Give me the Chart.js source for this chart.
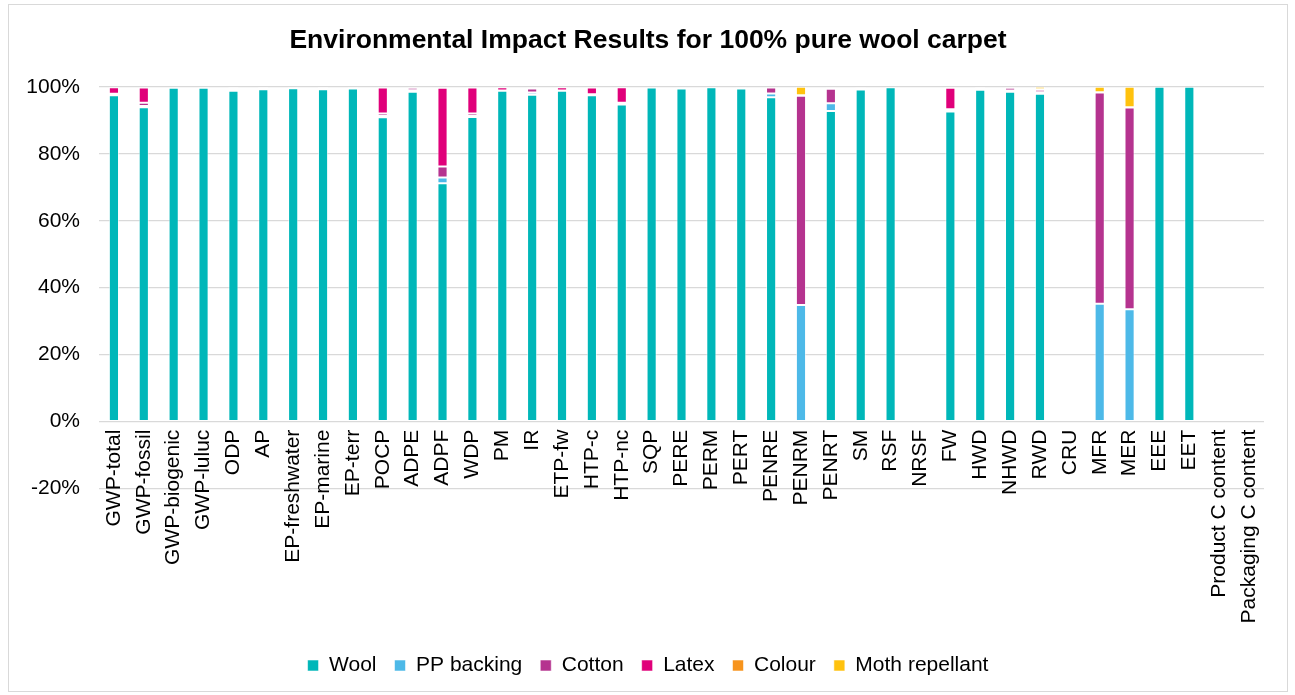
<!DOCTYPE html>
<html>
<head>
<meta charset="utf-8">
<script src="https://cdn.jsdelivr.net/npm/chart.js@4/dist/chart.umd.min.js"></script>
<style>
    body { margin: 0; background: #fff; }
    .frame {
        position: absolute; left: 8px; top: 4px;
        width: 1280px; height: 688px;
        border: 1px solid #d9d9d9; box-sizing: border-box;
    }
    .chart-box { position: absolute; left: 0; top: 0; width: 1278px; height: 686px; }
</style>
</head>
<body>
<div class="frame">
    <div class="chart-box"><canvas id="impactChart"></canvas></div>
</div>
<script>
// categories (impact indicators)
const categories = [
    "GWP-total", "GWP-fossil", "GWP-biogenic", "GWP-luluc", "ODP", "AP", "EP-freshwater",
    "EP-marine", "EP-terr", "POCP", "ADPE", "ADPF", "WDP", "PM", "IR", "ETP-fw", "HTP-c",
    "HTP-nc", "SQP", "PERE", "PERM", "PERT", "PENRE", "PENRM", "PENRT", "SM", "RSF", "NRSF",
    "FW", "HWD", "NHWD", "RWD", "CRU", "MFR", "MER", "EEE", "EET",
    "Product C content", "Packaging C content"
];

// share of each component, in %
const wool = [
    97.5, 93.9, 99.7, 99.7, 98.8, 99.3, 99.6, 99.3, 99.5, 90.9, 98.5, 71.2, 91.0, 98.8, 97.6, 98.8, 97.5,
    94.7, 99.8, 99.5, 99.9, 99.5, 96.9, 0, 92.8, 99.2, 99.9, null,
    92.6, 99.1, 98.5, 97.9, null, 0, 0, 100, 100, null, null
];
const ppBacking = [
    0.3, 0.4, 0, 0, 0.2, 0.1, 0, 0.1, 0, 0.4, 0.5, 1.7, 0.3, 0, 0.7, 0, 0.3,
    0.2, 0, 0, 0, 0, 1.1, 34.8, 2.3, 0.2, 0, null,
    0.2, 0.1, 0.4, 0.5, null, 35.2, 33.6, 0, 0, null, null
];
const cotton = [
    0.1, 0.9, 0, 0.3, 0.4, 0, 0, 0, 0, 0.7, 0.7, 3.3, 0.7, 0.1, 1.2, 0.1, 0,
    0.3, 0, 0, 0, 0, 1.8, 62.5, 4.3, 0.4, 0, null,
    0.5, 0.3, 0.8, 0.7, null, 63.1, 60.2, 0, 0, null, null
];
const latex = [
    2.0, 4.6, 0.1, 0, 0, 0.6, 0.1, 0.6, 0.2, 7.8, 0.2, 23.5, 7.8, 1.0, 0.3, 1.0, 2.0,
    4.7, 0, 0, 0, 0, 0, 0, 0.3, 0, 0, null,
    6.4, 0.5, 0.2, 0.1, null, 0, 0, 0, 0, null, null
];
const colour = [
    0.05, 0.1, 0.2, 0, 0.1, 0, 0.3, 0, 0.3, 0.1, 0, 0.2, 0.1, 0, 0, 0.1, 0.1,
    0.1, 0.2, 0.3, 0.1, 0.3, 0.2, 0.2, 0.2, 0.2, 0.1, null,
    0.3, 0, 0, 0.1, null, 0.1, 0.1, 0, 0, null, null
];
const mothRepellant = [
    0.05, 0.1, 0, 0, 0.5, 0, 0, 0, 0, 0.1, 0.1, 0.1, 0.1, 0.1, 0.2, 0, 0.1,
    0, 0, 0.2, 0, 0.2, 0, 2.5, 0.1, 0, 0, null,
    0, 0, 0.1, 0.7, null, 1.6, 6.1, 0, 0, null, null
];

const yTicks = [-20, 0, 20, 40, 60, 80, 100];

const FONT = "'Liberation Sans', Arial, sans-serif";

function series(label, data, color) {
    return {
        label: label,
        data: data,
        backgroundColor: color,
        borderColor: "rgba(255,255,255,0.55)",
        borderWidth: 1,
        borderSkipped: false,
        barPercentage: 0.34,
        categoryPercentage: 1
    };
}

new Chart(document.getElementById("impactChart").getContext("2d"), {
    type: "bar",
    data: {
        labels: categories,
        datasets: [
            series("Wool", wool, "#00B7B9"),
            series("PP backing", ppBacking, "#4DB9E8"),
            series("Cotton", cotton, "#B5338F"),
            series("Latex", latex, "#E0007A"),
            series("Colour", colour, "#F7941D"),
            series("Moth repellant", mothRepellant, "#FFC20E")
        ]
    },
    options: {
        responsive: true,
        maintainAspectRatio: false,
        animation: false,
        layout: { padding: { left: 0, right: 0, top: 0, bottom: 5 } },
        plugins: {
            title: {
                display: true,
                text: "Environmental Impact Results for 100% pure wool carpet",
                color: "#000",
                font: { family: FONT, size: 26.5, weight: "bold" },
                padding: { top: 20, bottom: 30 }
            },
            legend: {
                position: "bottom",
                // empty legend title only keeps room for the category labels above the legend
                title: { display: true, text: "", padding: { top: 134, bottom: 0 } },
                labels: {
                    color: "#000",
                    font: { family: FONT, size: 21 },
                    boxWidth: 11,
                    boxHeight: 11,
                    padding: 18
                }
            },
            tooltip: { enabled: false }
        },
        scales: {
            x: {
                stacked: true,
                // axis sits on the 0% line, labels hang over the negative band
                position: { y: 0 },
                grid: { display: false, drawTicks: false },
                border: { display: false },
                ticks: {
                    autoSkip: false,
                    minRotation: 90,
                    maxRotation: 90,
                    padding: 8,
                    color: "#000",
                    font: { family: FONT, size: 21 }
                },
                afterFit: (scale) => { scale.height = 0; }
            },
            y: {
                stacked: true,
                min: yTicks[0],
                max: yTicks[yTicks.length - 1],
                afterBuildTicks: (scale) => { scale.ticks = yTicks.map(v => ({ value: v })); },
                grid: { color: "#d9d9d9", lineWidth: 1.3, drawTicks: false },
                border: { display: false },
                ticks: {
                    padding: 19,
                    color: "#000",
                    font: { family: FONT, size: 21 },
                    callback: (v) => v + "%"
                },
                afterFit: (scale) => { scale.width = 90; }
            },
            // empty right axis, only the right margin of the plot
            yRight: {
                position: "right",
                grid: { display: false },
                border: { display: false },
                ticks: { display: false },
                afterFit: (scale) => { scale.width = 23; }
            }
        }
    }
});
</script>
</body>
</html>
